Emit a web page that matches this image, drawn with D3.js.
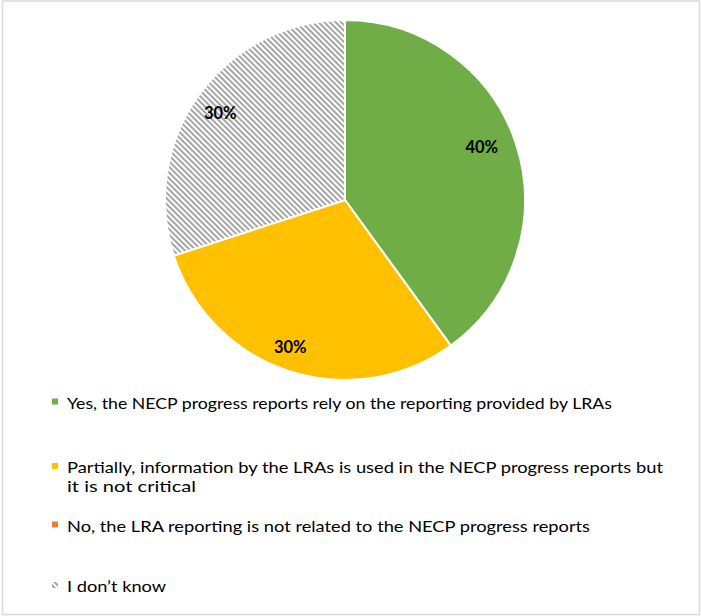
<!DOCTYPE html>
<html>
<head>
<meta charset="utf-8">
<script src="https://cdn.jsdelivr.net/npm/d3@7/dist/d3.min.js"></script>
<style>
  html, body { margin: 0; padding: 0; background: #fff; }
  svg { display: block; }
</style>
</head>
<body>
<svg id="chart" width="701" height="616"></svg>
<script>
// Survey answers and their shares (%)
const categories = [
  "Yes, the NECP progress reports rely on the reporting provided by LRAs",
  "Partially, information by the LRAs is used in the NECP progress reports but it is not critical",
  "No, the LRA reporting is not related to the NECP progress reports",
  "I don\u2019t know"
];
const values = [40, 30, 0, 30];
const fills = ["#70ad47", "#ffc000", "#ed7d31", "url(#hatch)"];
// Legend text split into rendered lines
const legendLines = [
  ["Yes, the NECP progress reports rely on the reporting provided by LRAs"],
  ["Partially, information by the LRAs is used in the NECP progress reports but", "it is not critical"],
  ["No, the LRA reporting is not related to the NECP progress reports"],
  ["I don\u2019t know"]
];
const legendWidths = [[545], [596, 129], [523], [99]];

const svg = d3.select("#chart");

// Frame around the chart area
svg.append("rect")
  .attr("x", 2.5).attr("y", 1)
  .attr("width", 697).attr("height", 613.5)
  .attr("fill", "#fff")
  .attr("stroke", "#d9d9d9")
  .attr("stroke-width", 1.5);

// Diagonal hatch for the "I don't know" slice
const defs = svg.append("defs");
const pat = defs.append("pattern")
  .attr("id", "hatch")
  .attr("patternUnits", "userSpaceOnUse")
  .attr("width", 4).attr("height", 4)
  .attr("patternTransform", "rotate(45)");
pat.append("rect").attr("width", 4).attr("height", 4).attr("fill", "#fff");
pat.append("rect").attr("width", 4).attr("height", 2).attr("fill", "#a6a6a6");

const cx = 345, cy = 200, r = 180;
const g = svg.append("g").attr("transform", `translate(${cx},${cy})`);

const pie = d3.pie().sort(null).value(d => d.v);
const data = values.map((v, i) => ({ v, i, name: categories[i] }));
const arcs = pie(data);

const arc = d3.arc().innerRadius(0).outerRadius(r);
const labelArc = d3.arc().innerRadius(148).outerRadius(148);
// small best-fit nudges for the data labels, per slice
const nudge = [[-4, -7], [-9, 6], [0, 0], [-5, 0]];

g.selectAll("path.slice")
  .data(arcs.filter(a => a.data.v > 0))
  .join("path")
  .attr("class", "slice")
  .attr("d", arc)
  .attr("fill", d => fills[d.data.i])
  .attr("stroke", "#fff")
  .attr("stroke-width", 2)
  .attr("stroke-linejoin", "round");

const total = d3.sum(values);
g.selectAll("text.pct")
  .data(arcs.filter(a => a.data.v > 0))
  .join("text")
  .attr("class", "pct")
  .attr("transform", d => {
    const [x, y] = labelArc.centroid(d);
    const [nx, ny] = nudge[d.data.i];
    return `translate(${x + nx},${y + ny})`;
  })
  .attr("text-anchor", "middle")
  .attr("dy", "0.36em")
  .attr("font-family", "Lato, 'Open Sans', sans-serif")
  .attr("font-weight", "bold")
  .attr("font-size", 16.5)
  .attr("fill", "#000")
  .text(d => Math.round(d.data.v / total * 100) + "%");

// Legend
const legendX = 52, textX = 67;
const baselines = [[408.5], [473, 492], [531.5], [592]];
const lg = svg.append("g").attr("class", "legend");
categories.forEach((c, i) => {
  const b0 = baselines[i][0];
  lg.append("rect")
    .attr("x", legendX).attr("y", b0 - 10)
    .attr("width", 6).attr("height", 6)
    .attr("fill", fills[i]);
  legendLines[i].forEach((line, j) => {
    lg.append("text")
      .attr("x", textX).attr("y", baselines[i][j])
      .attr("font-family", "Lato, 'Open Sans', sans-serif")
      .attr("font-size", 16)
      .attr("fill", "#000")
      .attr("textLength", legendWidths[i][j])
      .attr("lengthAdjust", "spacingAndGlyphs")
      .text(line);
  });
});
</script>
</body>
</html>
